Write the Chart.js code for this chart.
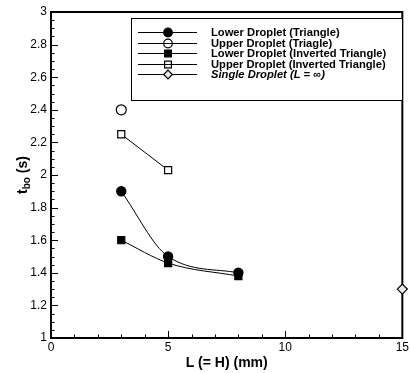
<!DOCTYPE html>
<html><head><meta charset="utf-8">
<script src="https://cdn.jsdelivr.net/npm/chart.js@4.4.1/dist/chart.umd.min.js"></script>
<style>html,body{margin:0;padding:0;background:#fff}#wrap{width:411px;height:373px}</style>
</head><body><div id="wrap"><canvas id="c" width="411" height="373"></canvas></div>
<script>
// ---- data ----
const lowerTriL = [3, 5, 8];
const lowerTriT = [1.9, 1.5, 1.4];
const upperTriL = [3];
const upperTriT = [2.4];
const lowerInvL = [3, 5, 8];
const lowerInvT = [1.6, 1.46, 1.38];
const upperInvL = [3, 5];
const upperInvT = [2.25, 2.03];
const singleL = [15];
const singleT = [1.3];
const seriesLabels = [
  'Lower Droplet (Triangle)',
  'Upper Droplet (Triagle)',
  'Lower Droplet (Inverted Triangle)',
  'Upper Droplet (Inverted Triangle)',
  'Single Droplet (L = \u221E)'
];
const xRange = [0, 15];
const yRange = [1, 3];
const xMajorStep = 5, xMinorStep = 1;
const yMajorStep = 0.2, yMinorStep = 0.05;
const xTitle = 'L (= H) (mm)';

function pts(xs, ys) { return xs.map((v, i) => ({x: v, y: ys[i]})); }

const FONT = '"Liberation Sans", Arial, sans-serif';

const styles = [
  {pointStyle: 'circle', radius: 4.6, fill: '#000'},
  {pointStyle: 'circle', radius: 5, fill: '#fff'},
  {pointStyle: 'rect', radius: 5, fill: '#000'},
  {pointStyle: 'rect', radius: 5, fill: '#fff'},
  {pointStyle: 'rectRot', radius: 5, fill: '#e8e8e8'}
];
const seriesData = [
  pts(lowerTriL, lowerTriT), pts(upperTriL, upperTriT), pts(lowerInvL, lowerInvT),
  pts(upperInvL, upperInvT), pts(singleL, singleT)
];

const datasets = seriesData.map((d, i) => ({
  label: seriesLabels[i],
  data: d,
  borderColor: '#000',
  borderWidth: 1,
  showLine: true,
  cubicInterpolationMode: 'monotone',
  pointStyle: styles[i].pointStyle,
  pointRadius: styles[i].radius,
  pointBackgroundColor: styles[i].fill,
  pointBorderColor: '#000',
  pointBorderWidth: 1.2,
  clip: false
}));

function drawMarker(ctx, st, x, y, fill) {
  ctx.beginPath();
  const r = st.radius;
  if (st.pointStyle === 'circle') ctx.arc(x, y, r, 0, Math.PI * 2);
  else if (st.pointStyle === 'rect') { const s = Math.SQRT1_2 * r; ctx.rect(x - s, y - s, 2 * s, 2 * s); }
  else { ctx.moveTo(x, y - r); ctx.lineTo(x + r, y); ctx.lineTo(x, y + r); ctx.lineTo(x - r, y); ctx.closePath(); }
  if (fill) { ctx.fillStyle = fill; ctx.fill(); }
  ctx.lineWidth = 1.2; ctx.strokeStyle = '#000'; ctx.stroke();
}

const framePlugin = {
  id: 'frame',
  beforeDatasetsDraw(chart) {
    const {ctx, chartArea: a, scales: {x, y}} = chart;
    ctx.save();
    ctx.strokeStyle = '#000';
    ctx.lineWidth = 1;
    ctx.beginPath();
    const nx = Math.round((xRange[1] - xRange[0]) / xMinorStep);
    for (let i = 0; i <= nx; i++) {
      const v = xRange[0] + i * xMinorStep;
      const px = Math.round(x.getPixelForValue(v)) + 0.5;
      const len = (i % Math.round(xMajorStep / xMinorStep) === 0) ? 7 : 3.5;
      ctx.moveTo(px, a.bottom); ctx.lineTo(px, a.bottom - len);
    }
    const ny = Math.round((yRange[1] - yRange[0]) / yMinorStep);
    for (let i = 0; i <= ny; i++) {
      const v = yRange[0] + i * yMinorStep;
      const py = Math.round(y.getPixelForValue(v)) + 0.5;
      const len = (i % Math.round(yMajorStep / yMinorStep) === 0) ? 7 : 3.5;
      ctx.moveTo(a.left, py); ctx.lineTo(a.left + len, py);
    }
    ctx.stroke();
    ctx.lineWidth = 2;
    ctx.strokeRect(a.left, a.top, a.right - a.left, a.bottom - a.top);
    ctx.restore();
  },
  afterDraw(chart) {
    const {ctx, chartArea: a} = chart;
    ctx.save();
    // legend box
    const bx = 131, by = 18, bw = 271, bh = 82;
    ctx.fillStyle = '#fff';
    ctx.fillRect(bx, by, bw, bh);
    ctx.lineWidth = 1; ctx.strokeStyle = '#000';
    ctx.strokeRect(bx + 0.5, by + 0.5, bw, bh);
    chart.data.datasets.forEach((ds, i) => {
      const ry = Math.round(32 + i * 10.5) + 0.5;
      ctx.beginPath(); ctx.moveTo(138, ry); ctx.lineTo(197, ry);
      ctx.lineWidth = 1; ctx.strokeStyle = '#000'; ctx.stroke();
      const st = styles[i];
      const lf = (i === 1 || i === 3) ? null : st.fill;
      drawMarker(ctx, {pointStyle: st.pointStyle, radius: st.pointStyle === 'rect' ? 4.8 : 4.3}, 168, ry, lf);
      ctx.fillStyle = '#000';
      ctx.textBaseline = 'middle';
      ctx.textAlign = 'left';
      ctx.font = (i === 4 ? 'italic ' : '') + 'bold 11.2px ' + FONT;
      ctx.fillText(ds.label, 211, ry + 0.5);
    });
    // x title
    ctx.fillStyle = '#000';
    ctx.font = 'bold 14px ' + FONT;
    ctx.textAlign = 'center';
    ctx.textBaseline = 'alphabetic';
    ctx.fillText(xTitle, (a.left + a.right) / 2, 367);
    // y title with subscript
    ctx.translate(27, (a.top + a.bottom) / 2);
    ctx.rotate(-Math.PI / 2);
    const f1 = 'bold 14px ' + FONT, f2 = 'bold 10px ' + FONT;
    ctx.font = f1; const wT = ctx.measureText('t').width; const wS = ctx.measureText(' (s)').width;
    ctx.font = f2; const wB = ctx.measureText('bo').width;
    let sx = -(wT + wB + wS) / 2;
    ctx.textAlign = 'left';
    ctx.font = f1; ctx.fillText('t', sx, 0); sx += wT;
    ctx.font = f2; ctx.fillText('bo', sx, 3); sx += wB;
    ctx.font = f1; ctx.fillText(' (s)', sx, 0);
    ctx.restore();
  }
};

new Chart(document.getElementById('c'), {
  type: 'line',
  data: {datasets},
  options: {
    responsive: false,
    animation: false,
    devicePixelRatio: 1,
    layout: {padding: {left: 0, right: 6, top: 12, bottom: 0}},
    plugins: {legend: {display: false}, tooltip: {enabled: false}},
    scales: {
      x: {
        type: 'linear', min: xRange[0], max: xRange[1],
        grid: {display: false, drawTicks: false}, border: {display: false},
        ticks: {stepSize: xMajorStep, color: '#000', font: {family: FONT, size: 12}, padding: 2, autoSkip: false, maxRotation: 0},
        afterFit(s) { s.height = 35; }
      },
      y: {
        type: 'linear', min: yRange[0], max: yRange[1],
        grid: {display: false, drawTicks: false}, border: {display: false},
        ticks: {stepSize: yMajorStep, color: '#000', font: {family: FONT, size: 12}, padding: 4, autoSkip: false,
          callback: v => String(+v.toFixed(2))},
        afterFit(s) { s.width = 51; }
      }
    }
  },
  plugins: [framePlugin]
});
</script></body></html>
